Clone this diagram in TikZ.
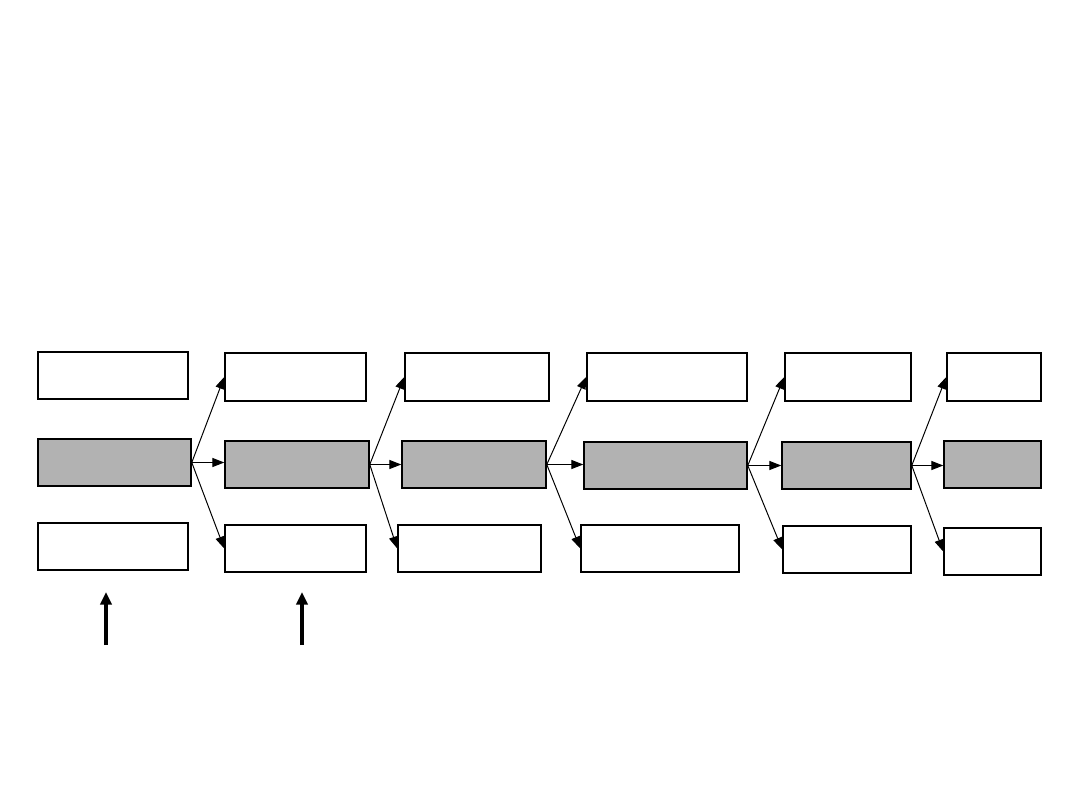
\documentclass[tikz,border=0pt]{standalone}
\usepackage{tikz}
\usetikzlibrary{arrows.meta}

\begin{document}
\begin{tikzpicture}[
  >=Stealth, x=0.025cm, y=-0.025cm,
  box/.style={draw=black, line width=1.1pt, inner sep=0pt},
  wbox/.style={box, fill=white},
  gbox/.style={box, fill=black!30},
  fan/.style={-{Triangle[length=8.5pt,width=6.5pt]}, line width=0.7pt},
  lift/.style={-{Triangle[length=9pt,width=8pt]}, line width=2.4pt}
]

\useasboundingbox (0,0) rectangle (1080,810);

% outer rows
\foreach \nm/\l/\t/\r/\b in {a1/38/352/188/399, a3/38/523/188/570,
    b1/225/353/366/401, b3/225/525/366/572, c1/405/353/549/401, c3/398/525/541/572,
    d1/587/353/747/401, d3/581/525/739/572, e1/785/353/911/401, e3/783/526/911/573,
    f1/947/353/1041/401, f3/944/528/1041/575}{
  \node[wbox, minimum width={(\r-\l)*0.025cm}, minimum height={(\b-\t)*0.025cm}]
    (\nm) at ({(\l+\r)/2},{(\t+\b)/2}) {};
}
% middle row
\foreach \nm/\l/\t/\r/\b in {a2/38/439/191/486, b2/225/441/369/488, c2/402/441/546/488,
    d2/584/442/747/489, e2/782/442/911/489, f2/944/441/1041/488}{
  \node[gbox, minimum width={(\r-\l)*0.025cm}, minimum height={(\b-\t)*0.025cm}]
    (\nm) at ({(\l+\r)/2},{(\t+\b)/2}) {};
}

\foreach \p/\q in {a/b, b/c, c/d, d/e, e/f}{
  \draw[fan] (\p2.east) -- (\q1.west);
  \draw[fan] (\p2.east) -- (\p2.east -| \q2.west);
  \draw[fan] (\p2.east) -- (\q3.west);
}

\coordinate (s1) at (106,645); \coordinate (t1) at (106,592);
\coordinate (s2) at (302,645); \coordinate (t2) at (302,592);
\draw[lift] (s1) -- (t1);
\draw[lift] (s2) -- (t2);

\end{tikzpicture}
\end{document}
